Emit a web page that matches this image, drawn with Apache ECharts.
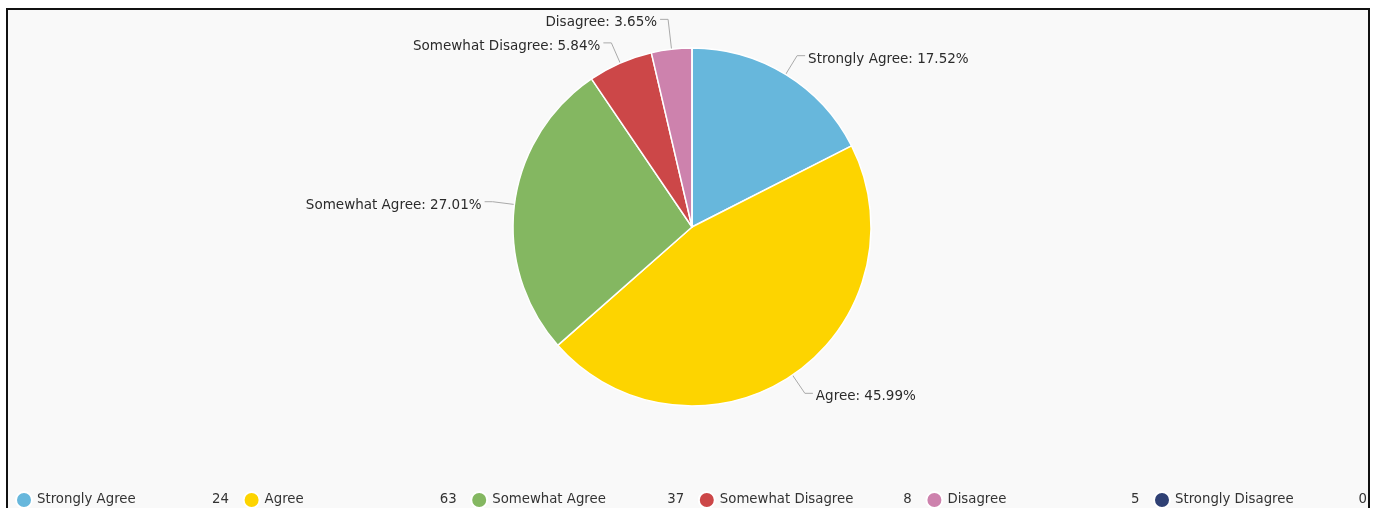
<!DOCTYPE html>
<html>
<head>
<meta charset="utf-8">
<script src="https://cdn.jsdelivr.net/npm/echarts@6/dist/echarts.min.js"></script>
<style>
  html, body { margin: 0; padding: 0; background: #ffffff; }
  #chart { width: 1376px; height: 508px; }
</style>
</head>
<body>
<div id="chart"></div>
<script>
// Survey responses
const categories = ['Strongly Agree', 'Agree', 'Somewhat Agree', 'Somewhat Disagree', 'Disagree', 'Strongly Disagree'];
const counts = [24, 63, 37, 8, 5, 0];

const palette = ['#67b7dc', '#fdd400', '#84b761', '#cc4748', '#cd82ad', '#2f4074'];
const fontFamily = '"DejaVu Sans", Verdana, sans-serif';

const total = counts.reduce((a, b) => a + b, 0);
const countByName = {};
categories.forEach((c, i) => { countByName[c] = counts[i]; });

const pieData = categories.map((name, i) => {
  const item = { name: name, value: counts[i] };
  if (counts[i] === 0) {
    item.label = { show: false };
    item.labelLine = { show: false };
  }
  if (name === 'Disagree') {
    item.labelLine = { length: 30 };
  }
  return item;
});

const chart = echarts.init(document.getElementById('chart'), null, { renderer: 'canvas' });

chart.setOption({
  animation: false,
  color: palette,
  textStyle: { fontFamily: fontFamily },
  graphic: [
    {
      type: 'rect',
      z: -10,
      silent: true,
      shape: { x: 7, y: 9, width: 1362, height: 520 },
      style: { fill: '#f9f9f9' }
    },
    {
      type: 'polyline',
      z: 100,
      zlevel: 1,
      silent: true,
      shape: { points: [[7, 530], [7, 9], [1369, 9], [1369, 530]] },
      style: { stroke: '#111111', lineWidth: 2, fill: null }
    },
    {
      type: 'rect',
      z: 100,
      zlevel: 1,
      silent: true,
      shape: { x: 1370, y: 0, width: 6, height: 508 },
      style: { fill: '#ffffff' }
    }
  ],
  legend: {
    left: 15,
    top: 491,
    width: 1370,
    padding: 0,
    orient: 'horizontal',
    icon: 'circle',
    itemWidth: 16,
    itemHeight: 16,
    itemGap: 13.6,
    data: categories,
    formatter: function (name) {
      return '{n|' + name + '}{v|' + countByName[name] + '}';
    },
    textStyle: {
      color: '#333333',
      fontFamily: fontFamily,
      fontSize: 13.3,
      rich: {
        n: { width: 169, align: 'left', fontSize: 13.3, color: '#333333', fontFamily: fontFamily },
        v: { width: 23, align: 'right', fontSize: 13.3, color: '#333333', fontFamily: fontFamily }
      }
    }
  },
  series: [
    {
      type: 'pie',
      center: [692, 227],
      radius: [0, 179],
      startAngle: 90,
      clockwise: true,
      avoidLabelOverlap: true,
      itemStyle: { borderColor: '#ffffff', borderWidth: 1.5 },
      label: {
        show: true,
        formatter: function (p) {
          return '{t|' + p.name + ': ' + (p.value / total * 100).toFixed(2) + '%}';
        },
        color: '#2b2b2b',
        fontFamily: fontFamily,
        fontSize: 13.5,
        distanceToLabelLine: 3,
        rich: {
          t: { padding: [7, 0, 0, 0], fontSize: 13.5, color: '#2b2b2b', fontFamily: fontFamily }
        }
      },
      labelLine: {
        show: true,
        length: 22,
        length2: 8,
        lineStyle: { color: '#aaaaaa', width: 1 }
      },
      emphasis: { disabled: true },
      data: pieData
    }
  ]
});
</script>
</body>
</html>
